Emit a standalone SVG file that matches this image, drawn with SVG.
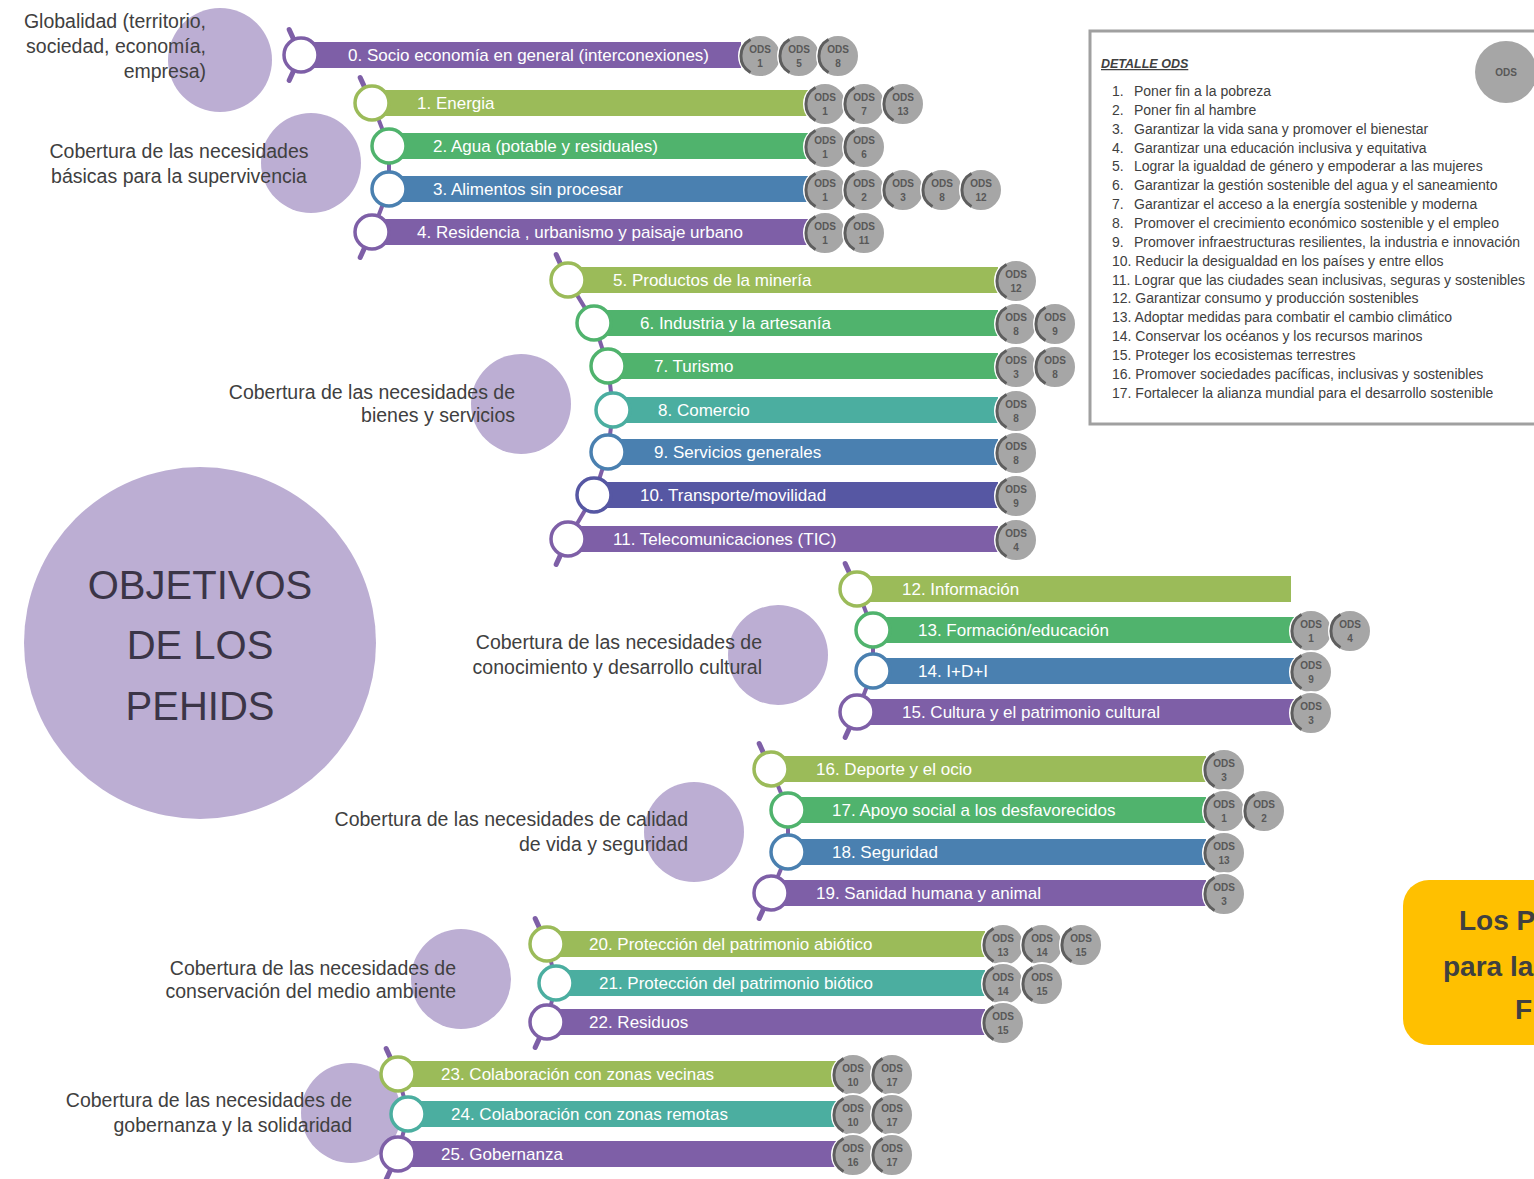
<svg xmlns="http://www.w3.org/2000/svg" xmlns:xlink="http://www.w3.org/1999/xlink" width="1534" height="1179" viewBox="0 0 1534 1179">
<defs>
<style>
text{font-family:"Liberation Sans",Arial,sans-serif}
.bt{font-size:17px;fill:#fff}
.lbl{font-size:19.5px;fill:#404040}
.ring{fill:#fff;stroke-width:3.5}
.conn{stroke:#7E5FA7;stroke-width:4;stroke-linecap:round;fill:none}
.stub{stroke:#7E5FA7;stroke-width:5;stroke-linecap:round;fill:none}
.pu{fill:#7E5FA7}.ol{fill:#9BBB59}.gr{fill:#50B36D}.te{fill:#4BAEA0}.bl{fill:#4A80B0}.in{fill:#5657A3}
.spu{stroke:#7E5FA7}.sol{stroke:#9BBB59}.sgr{stroke:#50B36D}.ste{stroke:#4BAEA0}.sbl{stroke:#4A80B0}.sin{stroke:#5657A3}
.o1,.o2{font-size:10px;font-weight:bold;fill:#585858;text-anchor:middle}
.lav{fill:#BCAED3}
.dt{font-size:14px;fill:#404040}
.or{font-size:28px;font-weight:bold;fill:#404040}
</style>
<g id="odsc">
<circle r="21" fill="#A6A6A6" stroke="#fff" stroke-width="2"/>
<path d="M -9.5 -16.5 A 19 19 0 0 0 -9.5 16.5" fill="none" stroke="#5E5E5E" stroke-width="3"/>
</g>
</defs>
<rect width="1534" height="1179" fill="#fff"/>

<g id="circles">
<circle class="lav" cx="220" cy="60" r="52"/>
<circle class="lav" cx="311" cy="163" r="50"/>
<circle class="lav" cx="521" cy="404" r="50"/>
<circle class="lav" cx="778" cy="655" r="50"/>
<circle class="lav" cx="694" cy="832" r="50"/>
<circle class="lav" cx="461" cy="979" r="50"/>
<circle class="lav" cx="351" cy="1113" r="50"/>
</g>

<g id="objetivos">
<circle class="lav" cx="200" cy="643" r="176"/>
<text x="200" y="599" font-size="40" fill="#3B3547" text-anchor="middle">OBJETIVOS</text>
<text x="200" y="659" font-size="40" fill="#3B3547" text-anchor="middle">DE LOS</text>
<text x="200" y="720" font-size="40" fill="#3B3547" text-anchor="middle">PEHIDS</text>
</g>

<g id="labels">
<g id="lbl-global" text-anchor="end">
<text class="lbl" x="206" y="28">Globalidad (territorio,</text>
<text class="lbl" x="206" y="53">sociedad, economía,</text>
<text class="lbl" x="206" y="78">empresa)</text>
</g>
<g id="lbl-basicas" text-anchor="middle">
<text class="lbl" x="179" y="158">Cobertura de las necesidades</text>
<text class="lbl" x="179" y="183">básicas para la supervivencia</text>
</g>
<g id="lbl-bienes" text-anchor="end">
<text class="lbl" x="515" y="399">Cobertura de las necesidades de</text>
<text class="lbl" x="515" y="422">bienes y servicios</text>
</g>
<g id="lbl-conoc" text-anchor="end">
<text class="lbl" x="762" y="649">Cobertura de las necesidades de</text>
<text class="lbl" x="762" y="674">conocimiento y desarrollo cultural</text>
</g>
<g id="lbl-calidad" text-anchor="end">
<text class="lbl" x="688" y="826">Cobertura de las necesidades de calidad</text>
<text class="lbl" x="688" y="851">de vida y seguridad</text>
</g>
<g id="lbl-medio" text-anchor="end">
<text class="lbl" x="456" y="975">Cobertura de las necesidades de</text>
<text class="lbl" x="456" y="998">conservación del medio ambiente</text>
</g>
<g id="lbl-gob" text-anchor="end">
<text class="lbl" x="352" y="1107">Cobertura de las necesidades de</text>
<text class="lbl" x="352" y="1132">gobernanza y la solidaridad</text>
</g>
</g>

<g id="connectors">
<path class="stub" d="M293.8 39.6 L289.2 29.6 M293.8 70.4 L289.2 80.4"/>
<path class="stub" d="M364.8 87.6 L360.2 77.6 M364.8 247.4 L360.2 257.4"/>
<path class="conn" d="M378.3 118.8 L382.7 130.2 M389 163 L389 172 M382.7 204.8 L378.3 216.2"/>
<path class="stub" d="M560.8 264.6 L556.2 254.6 M560.8 554.4 L556.2 564.4"/>
<path class="conn" d="M576.8 294.6 L585.2 308.4 M599.3 339.2 L602.7 349.8 M609.9 382.9 L611.1 393.1 M611 426.9 L610 435.1 M602.7 468.2 L599.3 478.8 M585.4 509.6 L576.6 524.4"/>
<path class="stub" d="M849.8 573.6 L845.2 563.6 M849.8 727.4 L845.2 737.4"/>
<path class="conn" d="M863.2 604.8 L866.8 614.2 M873 647 L873 654 M866.8 686.8 L863.2 696.2"/>
<path class="stub" d="M763.8 753.6 L759.2 743.6 M763.8 908.4 L759.2 918.4"/>
<path class="conn" d="M777.5 784.7 L781.5 794.3 M788 827 L788 835 M781.5 867.7 L777.5 877.3"/>
<path class="stub" d="M539.8 928.6 L535.2 918.6 M539.8 1037.4 L535.2 1047.4"/>
<path class="conn" d="M550.8 960.6 L552.2 966.4 M552.2 999.6 L550.8 1005.4"/>
<path class="stub" d="M390.8 1058.6 L386.2 1048.6 M390.8 1169.4 L386.2 1179.4"/>
<path class="conn" d="M402.1 1090.5 L403.9 1097.5 M403.9 1130.5 L402.1 1137.5"/>
</g>

<g id="n0"><rect class="pu" x="301" y="42" width="440" height="26"/><circle class="ring spu" cx="301" cy="55" r="17"/><text class="bt" x="348" y="61">0. Socio economía en general (interconexiones)</text>
<g transform="translate(760,56)"><use href="#odsc"/><text class="o1" y="-3">ODS</text><text class="o2" y="11">1</text></g>
<g transform="translate(799,56)"><use href="#odsc"/><text class="o1" y="-3">ODS</text><text class="o2" y="11">5</text></g>
<g transform="translate(838,56)"><use href="#odsc"/><text class="o1" y="-3">ODS</text><text class="o2" y="11">8</text></g></g>

<g id="n1"><rect class="ol" x="372" y="90" width="436" height="26"/><circle class="ring sol" cx="372" cy="103" r="17"/><text class="bt" x="417" y="109">1. Energia</text>
<g transform="translate(825,104)"><use href="#odsc"/><text class="o1" y="-3">ODS</text><text class="o2" y="11">1</text></g>
<g transform="translate(864,104)"><use href="#odsc"/><text class="o1" y="-3">ODS</text><text class="o2" y="11">7</text></g>
<g transform="translate(903,104)"><use href="#odsc"/><text class="o1" y="-3">ODS</text><text class="o2" y="11">13</text></g></g>

<g id="n2"><rect class="gr" x="389" y="133" width="419" height="26"/><circle class="ring sgr" cx="389" cy="146" r="17"/><text class="bt" x="433" y="152">2. Agua (potable y residuales)</text>
<g transform="translate(825,147)"><use href="#odsc"/><text class="o1" y="-3">ODS</text><text class="o2" y="11">1</text></g>
<g transform="translate(864,147)"><use href="#odsc"/><text class="o1" y="-3">ODS</text><text class="o2" y="11">6</text></g></g>

<g id="n3"><rect class="bl" x="389" y="176" width="419" height="26"/><circle class="ring sbl" cx="389" cy="189" r="17"/><text class="bt" x="433" y="195">3. Alimentos sin procesar</text>
<g transform="translate(825,190)"><use href="#odsc"/><text class="o1" y="-3">ODS</text><text class="o2" y="11">1</text></g>
<g transform="translate(864,190)"><use href="#odsc"/><text class="o1" y="-3">ODS</text><text class="o2" y="11">2</text></g>
<g transform="translate(903,190)"><use href="#odsc"/><text class="o1" y="-3">ODS</text><text class="o2" y="11">3</text></g>
<g transform="translate(942,190)"><use href="#odsc"/><text class="o1" y="-3">ODS</text><text class="o2" y="11">8</text></g>
<g transform="translate(981,190)"><use href="#odsc"/><text class="o1" y="-3">ODS</text><text class="o2" y="11">12</text></g></g>

<g id="n4"><rect class="pu" x="372" y="219" width="436" height="26"/><circle class="ring spu" cx="372" cy="232" r="17"/><text class="bt" x="417" y="238">4. Residencia , urbanismo y paisaje urbano</text>
<g transform="translate(825,233)"><use href="#odsc"/><text class="o1" y="-3">ODS</text><text class="o2" y="11">1</text></g>
<g transform="translate(864,233)"><use href="#odsc"/><text class="o1" y="-3">ODS</text><text class="o2" y="11">11</text></g></g>

<g id="n5"><rect class="ol" x="568" y="267" width="430" height="26"/><circle class="ring sol" cx="568" cy="280" r="17"/><text class="bt" x="613" y="286">5. Productos de la minería</text>
<g transform="translate(1016,281)"><use href="#odsc"/><text class="o1" y="-3">ODS</text><text class="o2" y="11">12</text></g></g>

<g id="n6"><rect class="gr" x="594" y="310" width="404" height="26"/><circle class="ring sgr" cx="594" cy="323" r="17"/><text class="bt" x="640" y="329">6. Industria y la artesanía</text>
<g transform="translate(1016,324)"><use href="#odsc"/><text class="o1" y="-3">ODS</text><text class="o2" y="11">8</text></g>
<g transform="translate(1055,324)"><use href="#odsc"/><text class="o1" y="-3">ODS</text><text class="o2" y="11">9</text></g></g>

<g id="n7"><rect class="gr" x="608" y="353" width="390" height="26"/><circle class="ring sgr" cx="608" cy="366" r="17"/><text class="bt" x="654" y="372">7. Turismo</text>
<g transform="translate(1016,367)"><use href="#odsc"/><text class="o1" y="-3">ODS</text><text class="o2" y="11">3</text></g>
<g transform="translate(1055,367)"><use href="#odsc"/><text class="o1" y="-3">ODS</text><text class="o2" y="11">8</text></g></g>

<g id="n8"><rect class="te" x="613" y="397" width="385" height="26"/><circle class="ring ste" cx="613" cy="410" r="17"/><text class="bt" x="658" y="416">8. Comercio</text>
<g transform="translate(1016,411)"><use href="#odsc"/><text class="o1" y="-3">ODS</text><text class="o2" y="11">8</text></g></g>

<g id="n9"><rect class="bl" x="608" y="439" width="390" height="26"/><circle class="ring sbl" cx="608" cy="452" r="17"/><text class="bt" x="654" y="458">9. Servicios generales</text>
<g transform="translate(1016,453)"><use href="#odsc"/><text class="o1" y="-3">ODS</text><text class="o2" y="11">8</text></g></g>

<g id="n10"><rect class="in" x="594" y="482" width="404" height="26"/><circle class="ring sin" cx="594" cy="495" r="17"/><text class="bt" x="640" y="501">10. Transporte/movilidad</text>
<g transform="translate(1016,496)"><use href="#odsc"/><text class="o1" y="-3">ODS</text><text class="o2" y="11">9</text></g></g>

<g id="n11"><rect class="pu" x="568" y="526" width="430" height="26"/><circle class="ring spu" cx="568" cy="539" r="17"/><text class="bt" x="613" y="545">11. Telecomunicaciones (TIC)</text>
<g transform="translate(1016,540)"><use href="#odsc"/><text class="o1" y="-3">ODS</text><text class="o2" y="11">4</text></g></g>

<g id="n12"><rect class="ol" x="857" y="576" width="434" height="26"/><circle class="ring sol" cx="857" cy="589" r="17"/><text class="bt" x="902" y="595">12. Información</text></g>

<g id="n13"><rect class="gr" x="873" y="617" width="421" height="26"/><circle class="ring sgr" cx="873" cy="630" r="17"/><text class="bt" x="918" y="636">13. Formación/educación</text>
<g transform="translate(1311,631)"><use href="#odsc"/><text class="o1" y="-3">ODS</text><text class="o2" y="11">1</text></g>
<g transform="translate(1350,631)"><use href="#odsc"/><text class="o1" y="-3">ODS</text><text class="o2" y="11">4</text></g></g>

<g id="n14"><rect class="bl" x="873" y="658" width="421" height="26"/><circle class="ring sbl" cx="873" cy="671" r="17"/><text class="bt" x="918" y="677">14. I+D+I</text>
<g transform="translate(1311,672)"><use href="#odsc"/><text class="o1" y="-3">ODS</text><text class="o2" y="11">9</text></g></g>

<g id="n15"><rect class="pu" x="857" y="699" width="437" height="26"/><circle class="ring spu" cx="857" cy="712" r="17"/><text class="bt" x="902" y="718">15. Cultura y el patrimonio cultural</text>
<g transform="translate(1311,713)"><use href="#odsc"/><text class="o1" y="-3">ODS</text><text class="o2" y="11">3</text></g></g>

<g id="n16"><rect class="ol" x="771" y="756" width="435" height="26"/><circle class="ring sol" cx="771" cy="769" r="17"/><text class="bt" x="816" y="775">16. Deporte y el ocio</text>
<g transform="translate(1224,770)"><use href="#odsc"/><text class="o1" y="-3">ODS</text><text class="o2" y="11">3</text></g></g>

<g id="n17"><rect class="gr" x="788" y="797" width="418" height="26"/><circle class="ring sgr" cx="788" cy="810" r="17"/><text class="bt" x="832" y="816">17. Apoyo social a los desfavorecidos</text>
<g transform="translate(1224,811)"><use href="#odsc"/><text class="o1" y="-3">ODS</text><text class="o2" y="11">1</text></g>
<g transform="translate(1264,811)"><use href="#odsc"/><text class="o1" y="-3">ODS</text><text class="o2" y="11">2</text></g></g>

<g id="n18"><rect class="bl" x="788" y="839" width="418" height="26"/><circle class="ring sbl" cx="788" cy="852" r="17"/><text class="bt" x="832" y="858">18. Seguridad</text>
<g transform="translate(1224,853)"><use href="#odsc"/><text class="o1" y="-3">ODS</text><text class="o2" y="11">13</text></g></g>

<g id="n19"><rect class="pu" x="771" y="880" width="435" height="26"/><circle class="ring spu" cx="771" cy="893" r="17"/><text class="bt" x="816" y="899">19. Sanidad humana y animal</text>
<g transform="translate(1224,894)"><use href="#odsc"/><text class="o1" y="-3">ODS</text><text class="o2" y="11">3</text></g></g>

<g id="n20"><rect class="ol" x="547" y="931" width="438" height="26"/><circle class="ring sol" cx="547" cy="944" r="17"/><text class="bt" x="589" y="950">20. Protección del patrimonio abiótico</text>
<g transform="translate(1003,945)"><use href="#odsc"/><text class="o1" y="-3">ODS</text><text class="o2" y="11">13</text></g>
<g transform="translate(1042,945)"><use href="#odsc"/><text class="o1" y="-3">ODS</text><text class="o2" y="11">14</text></g>
<g transform="translate(1081,945)"><use href="#odsc"/><text class="o1" y="-3">ODS</text><text class="o2" y="11">15</text></g></g>

<g id="n21"><rect class="te" x="556" y="970" width="429" height="26"/><circle class="ring ste" cx="556" cy="983" r="17"/><text class="bt" x="599" y="989">21. Protección del patrimonio biótico</text>
<g transform="translate(1003,984)"><use href="#odsc"/><text class="o1" y="-3">ODS</text><text class="o2" y="11">14</text></g>
<g transform="translate(1042,984)"><use href="#odsc"/><text class="o1" y="-3">ODS</text><text class="o2" y="11">15</text></g></g>

<g id="n22"><rect class="pu" x="547" y="1009" width="438" height="26"/><circle class="ring spu" cx="547" cy="1022" r="17"/><text class="bt" x="589" y="1028">22. Residuos</text>
<g transform="translate(1003,1023)"><use href="#odsc"/><text class="o1" y="-3">ODS</text><text class="o2" y="11">15</text></g></g>

<g id="n23"><rect class="ol" x="398" y="1061" width="438" height="26"/><circle class="ring sol" cx="398" cy="1074" r="17"/><text class="bt" x="441" y="1080">23. Colaboración con zonas vecinas</text>
<g transform="translate(853,1075)"><use href="#odsc"/><text class="o1" y="-3">ODS</text><text class="o2" y="11">10</text></g>
<g transform="translate(892,1075)"><use href="#odsc"/><text class="o1" y="-3">ODS</text><text class="o2" y="11">17</text></g></g>

<g id="n24"><rect class="te" x="408" y="1101" width="428" height="26"/><circle class="ring ste" cx="408" cy="1114" r="17"/><text class="bt" x="451" y="1120">24. Colaboración con zonas remotas</text>
<g transform="translate(853,1115)"><use href="#odsc"/><text class="o1" y="-3">ODS</text><text class="o2" y="11">10</text></g>
<g transform="translate(892,1115)"><use href="#odsc"/><text class="o1" y="-3">ODS</text><text class="o2" y="11">17</text></g></g>

<g id="n25"><rect class="pu" x="398" y="1141" width="438" height="26"/><circle class="ring spu" cx="398" cy="1154" r="17"/><text class="bt" x="441" y="1160">25. Gobernanza</text>
<g transform="translate(853,1155)"><use href="#odsc"/><text class="o1" y="-3">ODS</text><text class="o2" y="11">16</text></g>
<g transform="translate(892,1155)"><use href="#odsc"/><text class="o1" y="-3">ODS</text><text class="o2" y="11">17</text></g></g>

<g id="detalle">
<rect x="1090" y="31" width="470" height="393" fill="#fff" stroke="#A0A0A0" stroke-width="3"/>
<text x="1101" y="68" font-size="12.5" font-weight="bold" font-style="italic" fill="#404040" text-decoration="underline">DETALLE ODS</text>
<circle cx="1506" cy="72" r="31" fill="#A6A6A6"/>
<text x="1506" y="76" font-size="10" font-weight="bold" fill="#585858" text-anchor="middle">ODS</text>
<text class="dt" x="1112" y="96">1.</text><text class="dt" x="1134" y="96">Poner fin a la pobreza</text>
<text class="dt" x="1112" y="115">2.</text><text class="dt" x="1134" y="115">Poner fin al hambre</text>
<text class="dt" x="1112" y="134">3.</text><text class="dt" x="1134" y="134">Garantizar la vida sana y promover el bienestar</text>
<text class="dt" x="1112" y="153">4.</text><text class="dt" x="1134" y="153">Garantizar una educación inclusiva y equitativa</text>
<text class="dt" x="1112" y="171">5.</text><text class="dt" x="1134" y="171">Lograr la igualdad de género y empoderar a las mujeres</text>
<text class="dt" x="1112" y="190">6.</text><text class="dt" x="1134" y="190">Garantizar la gestión sostenible del agua y el saneamiento</text>
<text class="dt" x="1112" y="209">7.</text><text class="dt" x="1134" y="209">Garantizar el acceso a la energía sostenible y moderna</text>
<text class="dt" x="1112" y="228">8.</text><text class="dt" x="1134" y="228">Promover el crecimiento económico sostenible y el empleo</text>
<text class="dt" x="1112" y="247">9.</text><text class="dt" x="1134" y="247">Promover infraestructuras resilientes, la industria e innovación</text>
<text class="dt" x="1112" y="266">10. Reducir la desigualdad en los países y entre ellos</text>
<text class="dt" x="1112" y="285">11. Lograr que las ciudades sean inclusivas, seguras y sostenibles</text>
<text class="dt" x="1112" y="303">12. Garantizar consumo y producción sostenibles</text>
<text class="dt" x="1112" y="322">13. Adoptar medidas para combatir el cambio climático</text>
<text class="dt" x="1112" y="341">14. Conservar los océanos y los recursos marinos</text>
<text class="dt" x="1112" y="360">15. Proteger los ecosistemas terrestres</text>
<text class="dt" x="1112" y="379">16. Promover sociedades pacíficas, inclusivas y sostenibles</text>
<text class="dt" x="1112" y="398">17. Fortalecer la alianza mundial para el desarrollo sostenible</text>
</g>

<g id="nota">
<rect x="1403" y="880" width="220" height="165" rx="26" fill="#FFC000"/>
<text class="or" x="1459" y="930">Los P</text>
<text class="or" x="1443" y="976">para la</text>
<text class="or" x="1515" y="1019">F</text>
</g>
</svg>
